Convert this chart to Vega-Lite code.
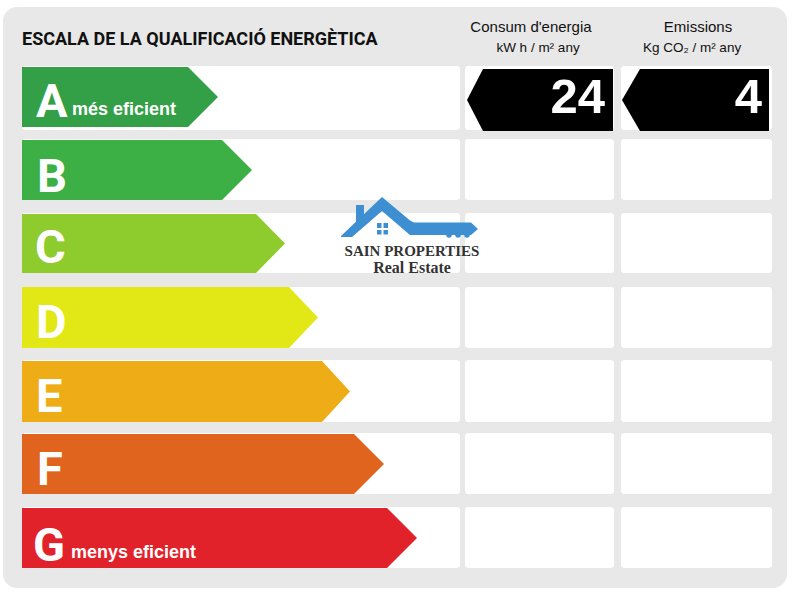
{
  "$schema": "https://vega.github.io/schema/vega-lite/v6.json",
  "width": 800,
  "height": 600,
  "padding": 0,
  "autosize": {"type": "fit", "contains": "padding"},
  "background": "white",
  "config": {"view": {"stroke": null}, "axis": {"disable": true}},
  "datasets": {
    "panel": [{"x": 3, "x2": 787, "y": 7, "y2": 588}],
    "cells": [
      {"grade": "A", "col": "scale", "x": 22, "x2": 460, "y": 66, "y2": 130},
      {"grade": "A", "col": "energy", "x": 465, "x2": 614, "y": 66, "y2": 130},
      {"grade": "A", "col": "emis", "x": 621, "x2": 772, "y": 66, "y2": 130},
      {"grade": "B", "col": "scale", "x": 22, "x2": 460, "y": 139, "y2": 200},
      {"grade": "B", "col": "energy", "x": 465, "x2": 614, "y": 139, "y2": 200},
      {"grade": "B", "col": "emis", "x": 621, "x2": 772, "y": 139, "y2": 200},
      {"grade": "C", "col": "scale", "x": 22, "x2": 460, "y": 213, "y2": 273},
      {"grade": "C", "col": "energy", "x": 465, "x2": 614, "y": 213, "y2": 273},
      {"grade": "C", "col": "emis", "x": 621, "x2": 772, "y": 213, "y2": 273},
      {"grade": "D", "col": "scale", "x": 22, "x2": 460, "y": 287, "y2": 348},
      {"grade": "D", "col": "energy", "x": 465, "x2": 614, "y": 287, "y2": 348},
      {"grade": "D", "col": "emis", "x": 621, "x2": 772, "y": 287, "y2": 348},
      {"grade": "E", "col": "scale", "x": 22, "x2": 460, "y": 360, "y2": 422},
      {"grade": "E", "col": "energy", "x": 465, "x2": 614, "y": 360, "y2": 422},
      {"grade": "E", "col": "emis", "x": 621, "x2": 772, "y": 360, "y2": 422},
      {"grade": "F", "col": "scale", "x": 22, "x2": 460, "y": 433, "y2": 494},
      {"grade": "F", "col": "energy", "x": 465, "x2": 614, "y": 433, "y2": 494},
      {"grade": "F", "col": "emis", "x": 621, "x2": 772, "y": 433, "y2": 494},
      {"grade": "G", "col": "scale", "x": 22, "x2": 460, "y": 507, "y2": 568},
      {"grade": "G", "col": "energy", "x": 465, "x2": 614, "y": 507, "y2": 568},
      {"grade": "G", "col": "emis", "x": 621, "x2": 772, "y": 507, "y2": 568}
    ],
    "arrows": [
      {"grade": "A", "x": 22, "y": 67, "y2": 127},
      {"grade": "A", "x": 188, "y": 67, "y2": 127},
      {"grade": "A", "x": 218, "y": 97, "y2": 97},
      {"grade": "B", "x": 22, "y": 140, "y2": 200},
      {"grade": "B", "x": 222, "y": 140, "y2": 200},
      {"grade": "B", "x": 252, "y": 170, "y2": 170},
      {"grade": "C", "x": 22, "y": 214, "y2": 273},
      {"grade": "C", "x": 256, "y": 214, "y2": 273},
      {"grade": "C", "x": 285, "y": 243.5, "y2": 243.5},
      {"grade": "D", "x": 22, "y": 287, "y2": 348},
      {"grade": "D", "x": 289, "y": 287, "y2": 348},
      {"grade": "D", "x": 318, "y": 317.5, "y2": 317.5},
      {"grade": "E", "x": 22, "y": 361, "y2": 422},
      {"grade": "E", "x": 322, "y": 361, "y2": 422},
      {"grade": "E", "x": 350, "y": 391.5, "y2": 391.5},
      {"grade": "F", "x": 22, "y": 434, "y2": 494},
      {"grade": "F", "x": 354, "y": 434, "y2": 494},
      {"grade": "F", "x": 384, "y": 464, "y2": 464},
      {"grade": "G", "x": 22, "y": 508, "y2": 568},
      {"grade": "G", "x": 387, "y": 508, "y2": 568},
      {"grade": "G", "x": 417, "y": 538, "y2": 538},
      {"grade": "energy", "x": 467, "y": 100, "y2": 100},
      {"grade": "energy", "x": 483, "y": 69, "y2": 131},
      {"grade": "energy", "x": 613, "y": 69, "y2": 131},
      {"grade": "emis", "x": 622, "y": 100, "y2": 100},
      {"grade": "emis", "x": 640, "y": 69, "y2": 131},
      {"grade": "emis", "x": 769, "y": 69, "y2": 131}
    ],
    "letters": [
      {"t": "A", "x": 36, "y": 117},
      {"t": "B", "x": 37, "y": 192},
      {"t": "C", "x": 35, "y": 263},
      {"t": "D", "x": 36, "y": 338},
      {"t": "E", "x": 36, "y": 412},
      {"t": "F", "x": 37, "y": 485},
      {"t": "G", "x": 33, "y": 561}
    ],
    "sub": [
      {"t": "més eficient", "x": 72, "y": 115},
      {"t": "menys eficient", "x": 71, "y": 558}
    ],
    "title": [{"t": "ESCALA DE LA QUALIFICACIÓ ENERGÈTICA", "x": 22, "y": 45}],
    "head": [
      {"t": "Consum d'energia", "x": 531, "y": 32},
      {"t": "Emissions", "x": 698, "y": 32}
    ],
    "units": [
      {"t": "kW h / m² any", "x": 538, "y": 52},
      {"t": "Kg CO₂ / m² any", "x": 692, "y": 52}
    ],
    "values": [
      {"t": "24", "v": 24, "x": 605, "y": 113},
      {"t": "4", "v": 4, "x": 762, "y": 113}
    ],
    "logoBody": [
      {"x": 341, "y": 236, "y2": 237},
      {"x": 352, "y": 225.5, "y2": 237},
      {"x": 382, "y": 197, "y2": 211},
      {"x": 410, "y": 220.5, "y2": 235},
      {"x": 414, "y": 222.5, "y2": 235},
      {"x": 471, "y": 222.5, "y2": 235},
      {"x": 478, "y": 229, "y2": 229}
    ],
    "logoRects": [
      {"part": "chimney", "x": 356, "x2": 364, "y": 205, "y2": 222},
      {"part": "w1", "x": 377, "x2": 381.5, "y": 223, "y2": 228},
      {"part": "w2", "x": 383.5, "x2": 388, "y": 223, "y2": 228},
      {"part": "w3", "x": 377, "x2": 381.5, "y": 230, "y2": 234.5},
      {"part": "w4", "x": 383.5, "x2": 388, "y": 230, "y2": 234.5}
    ],
    "teeth": [
      {"x": 449, "y": 235},
      {"x": 458, "y": 235},
      {"x": 467, "y": 235}
    ],
    "logoText1": [{"t": "SAIN PROPERTIES", "x": 412, "y": 256}],
    "logoText2": [{"t": "Real Estate", "x": 412, "y": 273}]
  },
  "layer": [
    {
      "data": {"name": "panel"},
      "mark": {"type": "rect", "color": "#e8e8e8", "cornerRadius": 14},
      "encoding": {
        "x": {"field": "x", "type": "quantitative", "scale": {"domain": [0, 800], "nice": false, "zero": false}},
        "x2": {"field": "x2"},
        "y": {"field": "y", "type": "quantitative", "scale": {"domain": [0, 600], "reverse": true, "nice": false, "zero": false}},
        "y2": {"field": "y2"}
      }
    },
    {
      "data": {"name": "cells"},
      "mark": {"type": "rect", "color": "#ffffff", "cornerRadius": 3},
      "encoding": {
        "x": {"field": "x", "type": "quantitative"},
        "x2": {"field": "x2"},
        "y": {"field": "y", "type": "quantitative"},
        "y2": {"field": "y2"}
      }
    },
    {
      "data": {"name": "arrows"},
      "mark": {"type": "area", "interpolate": "linear"},
      "encoding": {
        "x": {"field": "x", "type": "quantitative"},
        "y": {"field": "y", "type": "quantitative", "stack": null},
        "y2": {"field": "y2"},
        "detail": {"field": "grade"},
        "color": {
          "field": "grade",
          "type": "nominal",
          "legend": null,
          "scale": {
            "domain": ["A", "B", "C", "D", "E", "F", "G", "energy", "emis"],
            "range": ["#33a047", "#3cb044", "#8ecb2c", "#e1e816", "#eead16", "#e0641e", "#e2222a", "#000000", "#000000"]
          }
        }
      }
    },
    {
      "data": {"name": "letters"},
      "mark": {"type": "text", "align": "left", "baseline": "alphabetic", "color": "white", "font": "Roboto", "fontWeight": "bold", "fontSize": 47},
      "encoding": {
        "x": {"field": "x", "type": "quantitative"},
        "y": {"field": "y", "type": "quantitative"},
        "text": {"field": "t"}
      }
    },
    {
      "data": {"name": "sub"},
      "mark": {"type": "text", "align": "left", "baseline": "alphabetic", "color": "white", "font": "Liberation Sans, Arial, sans-serif", "fontWeight": "bold", "fontSize": 18},
      "encoding": {
        "x": {"field": "x", "type": "quantitative"},
        "y": {"field": "y", "type": "quantitative"},
        "text": {"field": "t"}
      }
    },
    {
      "data": {"name": "title"},
      "mark": {"type": "text", "align": "left", "baseline": "alphabetic", "color": "#111111", "font": "Roboto", "fontWeight": "bold", "fontSize": 18},
      "encoding": {
        "x": {"field": "x", "type": "quantitative"},
        "y": {"field": "y", "type": "quantitative"},
        "text": {"field": "t"}
      }
    },
    {
      "data": {"name": "head"},
      "mark": {"type": "text", "align": "center", "baseline": "alphabetic", "color": "#111111", "font": "Liberation Sans, Arial, sans-serif", "fontSize": 15},
      "encoding": {
        "x": {"field": "x", "type": "quantitative"},
        "y": {"field": "y", "type": "quantitative"},
        "text": {"field": "t"}
      }
    },
    {
      "data": {"name": "units"},
      "mark": {"type": "text", "align": "center", "baseline": "alphabetic", "color": "#111111", "font": "Liberation Sans, Arial, sans-serif", "fontSize": 13.5},
      "encoding": {
        "x": {"field": "x", "type": "quantitative"},
        "y": {"field": "y", "type": "quantitative"},
        "text": {"field": "t"}
      }
    },
    {
      "data": {"name": "values"},
      "mark": {"type": "text", "align": "right", "baseline": "alphabetic", "color": "white", "font": "Liberation Sans, Arial, sans-serif", "fontWeight": "bold", "fontSize": 49},
      "encoding": {
        "x": {"field": "x", "type": "quantitative"},
        "y": {"field": "y", "type": "quantitative"},
        "text": {"field": "t"}
      }
    },
    {
      "data": {"name": "logoBody"},
      "mark": {"type": "area", "interpolate": "linear", "color": "#3d8fd1"},
      "encoding": {
        "x": {"field": "x", "type": "quantitative"},
        "y": {"field": "y", "type": "quantitative", "stack": null},
        "y2": {"field": "y2"}
      }
    },
    {
      "data": {"name": "logoRects"},
      "mark": {"type": "rect", "color": "#3d8fd1"},
      "encoding": {
        "x": {"field": "x", "type": "quantitative"},
        "x2": {"field": "x2"},
        "y": {"field": "y", "type": "quantitative"},
        "y2": {"field": "y2"}
      }
    },
    {
      "data": {"name": "teeth"},
      "mark": {"type": "circle", "color": "#3d8fd1", "opacity": 1, "size": 30},
      "encoding": {
        "x": {"field": "x", "type": "quantitative"},
        "y": {"field": "y", "type": "quantitative"}
      }
    },
    {
      "data": {"name": "logoText1"},
      "mark": {"type": "text", "align": "center", "baseline": "alphabetic", "color": "#333333", "font": "Liberation Serif, DejaVu Serif, serif", "fontWeight": "bold", "fontSize": 15},
      "encoding": {
        "x": {"field": "x", "type": "quantitative"},
        "y": {"field": "y", "type": "quantitative"},
        "text": {"field": "t"}
      }
    },
    {
      "data": {"name": "logoText2"},
      "mark": {"type": "text", "align": "center", "baseline": "alphabetic", "color": "#333333", "font": "Liberation Serif, DejaVu Serif, serif", "fontWeight": "bold", "fontSize": 16},
      "encoding": {
        "x": {"field": "x", "type": "quantitative"},
        "y": {"field": "y", "type": "quantitative"},
        "text": {"field": "t"}
      }
    }
  ]
}
